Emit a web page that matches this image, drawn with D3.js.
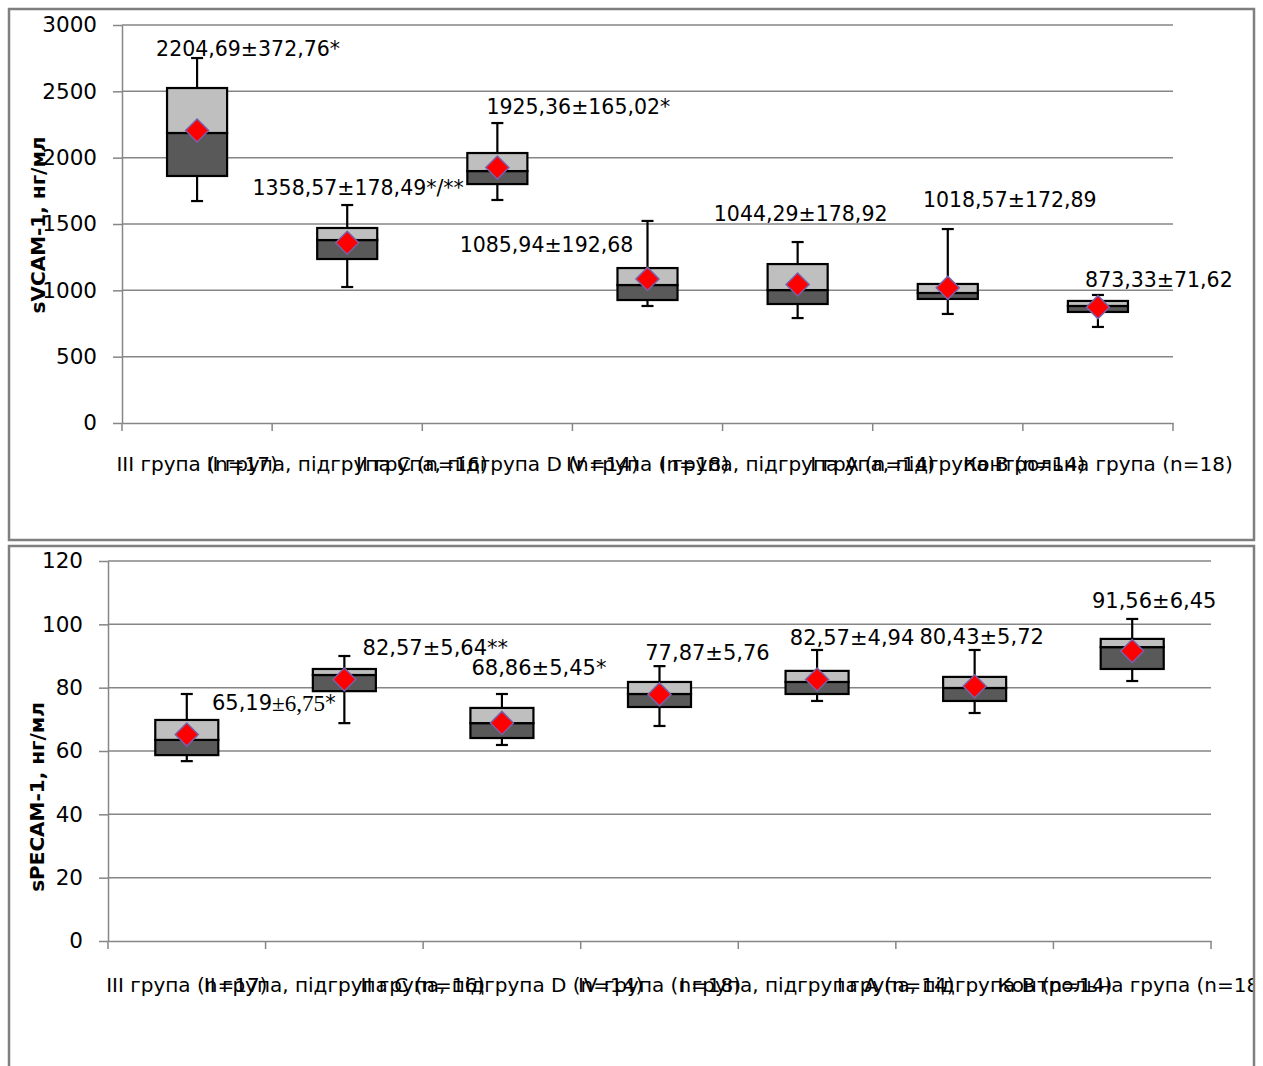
<!DOCTYPE html>
<html><head><meta charset="utf-8">
<script src="https://cdn.jsdelivr.net/npm/d3@7"></script>
<style>body{margin:0;background:#fff} svg{display:block}</style>
</head><body>
<svg id="c" width="1263" height="1066"></svg>
<script>
// ---------- DATA ----------
const categories = [
  "III група (n=17)",
  "II група, підгрупа C (n=16)",
  "II група, підгрупа D (n=14)",
  "IV група (n=18)",
  "I група, підгрупа A (n=14)",
  "I група, підгрупа B (n=14)",
  "Контрольна група (n=18)"
];

// sVCAM-1, нг/мл
const vcamMin    = [1673, 1025, 1681,  882,  791,  822, 724];
const vcamQ1     = [1862, 1236, 1801,  927,  897,  935, 837];
const vcamMedian = [2186, 1379, 1899, 1040, 1002,  980, 882];
const vcamQ3     = [2525, 1470, 2035, 1168, 1198, 1048, 920];
const vcamMax    = [2751, 1643, 2261, 1523, 1364, 1462, 965];
const vcamMean   = [2204.69, 1358.57, 1925.36, 1085.94, 1044.29, 1018.57, 873.33];
const vcamLabels = ["2204,69±372,76*", "1358,57±178,49*/**", "1925,36±165,02*",
                    "1085,94±192,68", "1044,29±178,92", "1018,57±172,89", "873,33±71,62"];
const vcamTicks  = [0, 500, 1000, 1500, 2000, 2500, 3000];

// sPECAM-1, нг/мл
const pecamMin    = [56.8, 68.8, 61.9, 67.9, 75.8, 72.0, 82.1];
const pecamQ1     = [58.7, 78.9, 64.1, 73.9, 78.0, 75.8, 85.9];
const pecamMedian = [63.5, 84.0, 68.8, 78.0, 81.8, 79.9, 92.8];
const pecamQ3     = [69.8, 85.9, 73.6, 81.8, 85.3, 83.4, 95.4];
const pecamMax    = [78.0, 90.0, 78.0, 86.8, 91.9, 91.9, 101.7];
const pecamMean   = [65.19, 82.57, 68.86, 77.87, 82.57, 80.43, 91.56];
const pecamLabels = ["65,19±6,75*", "82,57±5,64**", "68,86±5,45*",
                     "77,87±5,76", "82,57±4,94", "80,43±5,72", "91,56±6,45"];
const pecamTicks  = [0, 20, 40, 60, 80, 100, 120];

// ---------- LAYOUT (positions / styles, separate from data) ----------
const vcamLabelOffset  = [[51,-82],[11,-55],[81,-61],[-101,-34],[3,-70],[62,-88],[61,-27]];
const pecamLabelOffset = [[87,-32],[91,-32],[37,-55],[48,-41],[35,-42],[7,-49],[22,-50]];
const pecamSerifLabel  = [true, false, false, false, false, false, false];

const FONT = "'DejaVu Sans', 'Noto Sans', sans-serif";
const SERIF = "'Liberation Serif', 'DejaVu Serif', serif";
const GRID = "#868686";
const svg = d3.select("#c");

function drawChart(o) {
  const clipId = "clip" + o.id;
  svg.append("clipPath").attr("id", clipId).append("rect")
    .attr("x", o.frame[0]).attr("y", o.frame[1]).attr("width", o.frame[2]).attr("height", o.frame[3]);
  const root = svg.append("g");
  const g = root.append("g").attr("clip-path", `url(#${clipId})`);

  const x = d3.scaleBand().domain(categories).range([o.left, o.right]);
  const y = d3.scaleLinear().domain([0, o.ticks[o.ticks.length - 1]]).range([o.bottom, o.top]);

  // gridlines
  g.append("g").selectAll("line").data(o.ticks.filter(t => t > 0)).join("line")
    .attr("x1", o.left).attr("x2", o.right)
    .attr("y1", d => y(d)).attr("y2", d => y(d))
    .attr("stroke", GRID).attr("stroke-width", 1.5);

  // y axis
  const ya = g.append("g").attr("transform", `translate(${o.left},0)`)
    .call(d3.axisLeft(y).tickValues(o.ticks).tickFormat(d3.format("d"))
      .tickSizeInner(9).tickSizeOuter(0).tickPadding(16));
  ya.select(".domain").attr("stroke", GRID).attr("stroke-width", 1.5);
  ya.selectAll(".tick line").attr("stroke", GRID).attr("stroke-width", 1.5);
  ya.selectAll(".tick text").attr("font-family", FONT).attr("font-size", 21.5).attr("fill", "#000");

  // x axis
  const xa = g.append("g").attr("transform", `translate(0,${o.bottom})`)
    .call(d3.axisBottom(x).tickSize(0).tickSizeOuter(0).tickPadding(o.catPad));
  xa.select(".domain").attr("stroke", GRID).attr("stroke-width", 1.5);
  xa.selectAll(".tick text").attr("font-family", FONT).attr("font-size", 20).attr("fill", "#000");
  const bounds = categories.map(c => x(c)).concat([o.right]);
  xa.append("g").selectAll("line").data(bounds).join("line")
    .attr("x1", d => d).attr("x2", d => d).attr("y1", 0).attr("y2", 8)
    .attr("stroke", GRID).attr("stroke-width", 1.5);

  // y title
  g.append("text")
    .attr("transform", `translate(${o.titleX},${o.titleY}) rotate(-90)`)
    .attr("text-anchor", "middle")
    .attr("font-family", FONT).attr("font-weight", "bold").attr("font-size", 20)
    .text(o.title);

  const bw = x.bandwidth() * 0.4;
  const cx = i => x(categories[i]) + x.bandwidth() / 2;
  const idx = d3.range(categories.length);

  // whiskers
  const wg = g.append("g").attr("stroke", "#000").attr("stroke-width", 2.2);
  wg.selectAll(".wu").data(idx).join("line")
    .attr("x1", cx).attr("x2", cx).attr("y1", i => y(o.q3[i])).attr("y2", i => y(o.max[i]));
  wg.selectAll(".wl").data(idx).join("line")
    .attr("x1", cx).attr("x2", cx).attr("y1", i => y(o.q1[i])).attr("y2", i => y(o.min[i]));
  wg.selectAll(".cu").data(idx).join("line")
    .attr("x1", i => cx(i) - 6).attr("x2", i => cx(i) + 6).attr("y1", i => y(o.max[i])).attr("y2", i => y(o.max[i]));
  wg.selectAll(".cl").data(idx).join("line")
    .attr("x1", i => cx(i) - 6).attr("x2", i => cx(i) + 6).attr("y1", i => y(o.min[i])).attr("y2", i => y(o.min[i]));

  // boxes
  const bg = g.append("g").attr("stroke", "#000").attr("stroke-width", 2.2);
  bg.selectAll(".lo").data(idx).join("rect")
    .attr("x", i => cx(i) - bw / 2).attr("width", bw)
    .attr("y", i => y(o.median[i])).attr("height", i => y(o.q1[i]) - y(o.median[i]))
    .attr("fill", "#595959");
  bg.selectAll(".hi").data(idx).join("rect")
    .attr("x", i => cx(i) - bw / 2).attr("width", bw)
    .attr("y", i => y(o.q3[i])).attr("height", i => y(o.median[i]) - y(o.q3[i]))
    .attr("fill", "#bfbfbf");

  // means
  const sym = d3.symbol().type(d3.symbolSquare).size(265);
  g.append("g").selectAll("path").data(idx).join("path")
    .attr("d", sym)
    .attr("transform", i => `translate(${cx(i)},${y(o.mean[i])}) rotate(45)`)
    .attr("fill", "#ff0000").attr("stroke", "#7a5fa8").attr("stroke-width", 1.5);

  // data labels
  const lg = g.append("g").selectAll("text").data(idx).join("text")
    .attr("x", i => cx(i) + o.labelOffset[i][0])
    .attr("y", i => y(o.mean[i]) + o.labelOffset[i][1])
    .attr("text-anchor", "middle").attr("dominant-baseline", "central")
    .attr("font-family", FONT).attr("font-size", o.labelSize).attr("fill", "#000");
  lg.each(function(i) {
    const t = d3.select(this);
    const s = o.labels[i];
    if (o.serif && o.serif[i]) {
      const p = s.indexOf("±");
      const star = s.indexOf("*");
      t.append("tspan").text(s.slice(0, p));
      t.append("tspan").attr("font-family", SERIF).attr("font-size", o.labelSize * 1.1).text(s.slice(p, star));
      t.append("tspan").text(s.slice(star));
    } else {
      t.text(s);
    }
  });

  // frame
  root.append("rect")
    .attr("x", o.frame[0]).attr("y", o.frame[1]).attr("width", o.frame[2]).attr("height", o.frame[3])
    .attr("fill", "none").attr("stroke", "#7f7f7f").attr("stroke-width", 2.5);
}

drawChart({
  id: "top", frame: [9, 9, 1245, 531],
  left: 122, right: 1173, top: 25, bottom: 423, catPad: 34,
  ticks: vcamTicks, title: "sVCAM-1, нг/мл", titleX: 45, titleY: 225,
  min: vcamMin, q1: vcamQ1, median: vcamMedian, q3: vcamQ3, max: vcamMax, mean: vcamMean,
  labels: vcamLabels, labelOffset: vcamLabelOffset, labelSize: 20.5
});

drawChart({
  id: "bot", frame: [9, 546, 1245, 600],
  left: 108, right: 1211, top: 561, bottom: 941, catPad: 37,
  ticks: pecamTicks, title: "sPECAM-1, нг/мл", titleX: 44, titleY: 797,
  min: pecamMin, q1: pecamQ1, median: pecamMedian, q3: pecamQ3, max: pecamMax, mean: pecamMean,
  labels: pecamLabels, labelOffset: pecamLabelOffset, labelSize: 21, serif: pecamSerifLabel
});
</script>
</body></html>
